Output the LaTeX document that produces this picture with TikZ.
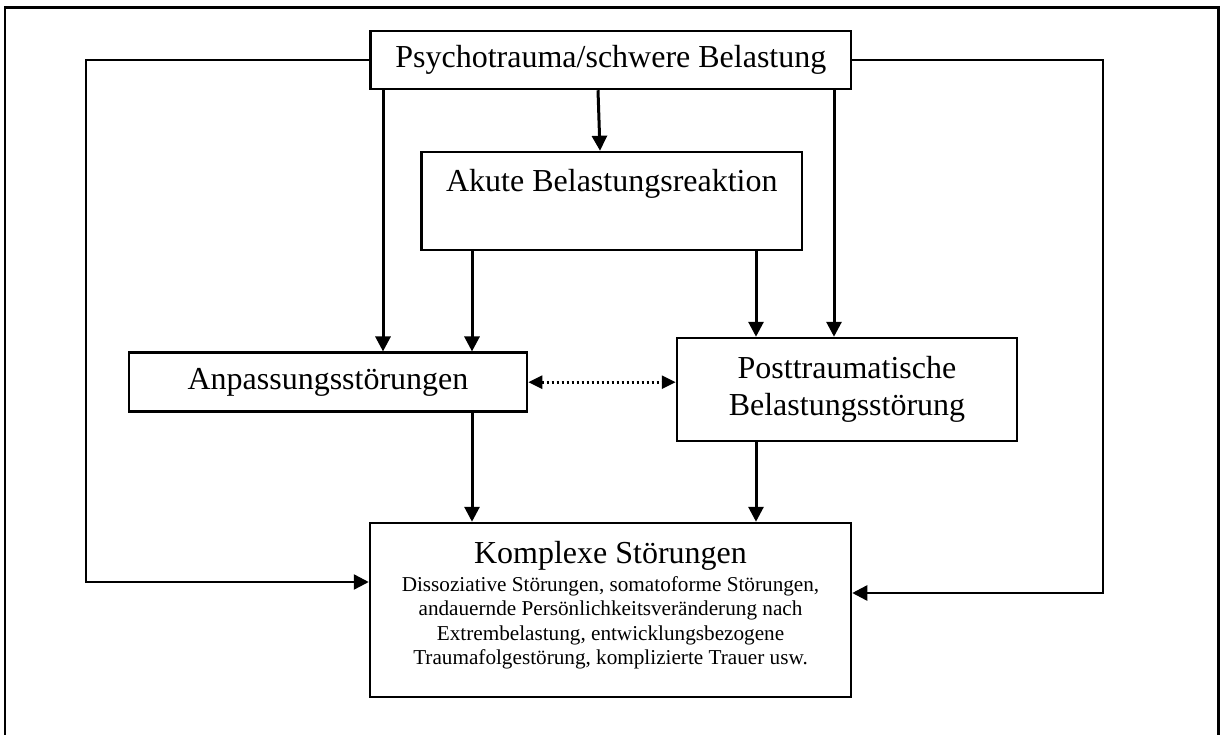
\documentclass[tikz,border=0pt]{standalone}
\usepackage{fontspec}
\setmainfont{Liberation Serif}
\usetikzlibrary{arrows.meta}
\tikzset{
  box/.style={draw, line width=2.5pt, rectangle, inner sep=0pt, align=center,
    font=\fontsize{32}{37.5}\selectfont},
  arr/.style={line width=3pt, -{Triangle[length=15pt,width=15pt]}},
  loopline/.style={line width=2.5pt, -{Triangle[length=15pt,width=15pt]}},
  dotarr/.style={line width=2.8pt, dash pattern=on 2.6pt off 2.4pt,
    {Triangle[length=14pt,width=13pt]}-{Triangle[length=14pt,width=13pt]}},
  frame/.style={line width=2.4pt},
  txt/.style={inner sep=0pt, align=center}
}
\begin{document}
\begin{tikzpicture}[x=1pt,y=-1pt]
\useasboundingbox (0,0) rectangle (1220,735);
\draw[frame] (5,745) -- (5,7.5) -- (1218.5,7.5) -- (1218.5,745);

\node[box, minimum width=480.3pt, minimum height=58pt] (psy) at (610.85,60) {Psychotrauma/schwere Belastung};
\node[box, minimum width=380.3pt, minimum height=98pt] (aku) at (611.85,201) {};
\node[txt, font=\fontsize{32}{37.5}\selectfont] (akutxt) at (611.85,184) {Akute Belastungsreaktion};
\node[box, minimum width=398pt, minimum height=59pt] (anp) at (328,382.2) {Anpassungsstörungen};
\node[box, minimum width=340pt, minimum height=103pt] (ptb) at (847,389.5) {Posttraumatische\\Belastungsstörung};
\node[box, minimum width=481pt, minimum height=174pt] (kom) at (610.5,610) {};
\node[txt, font=\fontsize{32}{37.5}\selectfont] (komtitle) at (610.5,556) {Komplexe Störungen};
\node[txt, font=\fontsize{21.2}{24.5}\selectfont] (kombody) at (610.5,623) {Dissoziative Störungen, somatoforme Störungen,\\andauernde Persönlichkeitsveränderung nach\\Extrembelastung, entwicklungsbezogene\\Traumafolgestörung, komplizierte Trauer usw.};

\coordinate (xa) at (383,0);
\coordinate (xb1) at (598,0);
\coordinate (xb2) at (600,0);
\coordinate (xc) at (834,0);
\coordinate (xd) at (472,0);
\coordinate (xe) at (756,0);
\coordinate (lx) at (86,582);
\coordinate (rx) at (1103,593);

\draw[arr] (psy.south -| xa) -- (anp.north -| xa);
\draw[arr] (psy.south -| xb1) -- (aku.north -| xb2);
\draw[arr] (psy.south -| xc) -- (ptb.north -| xc);
\draw[arr] (aku.south -| xd) -- (anp.north -| xd);
\draw[arr] (aku.south -| xe) -- (ptb.north -| xe);
\draw[arr] (anp.south -| xd) -- (kom.north -| xd);
\draw[arr] (ptb.south -| xe) -- (kom.north -| xe);
\draw[dotarr] (anp.east) -- (anp.east -| ptb.west);
\draw[loopline] (psy.west) -| (lx) -- (kom.west |- lx);
\draw[loopline] (psy.east) -| (rx) -- (kom.east |- rx);
\end{tikzpicture}
\end{document}
